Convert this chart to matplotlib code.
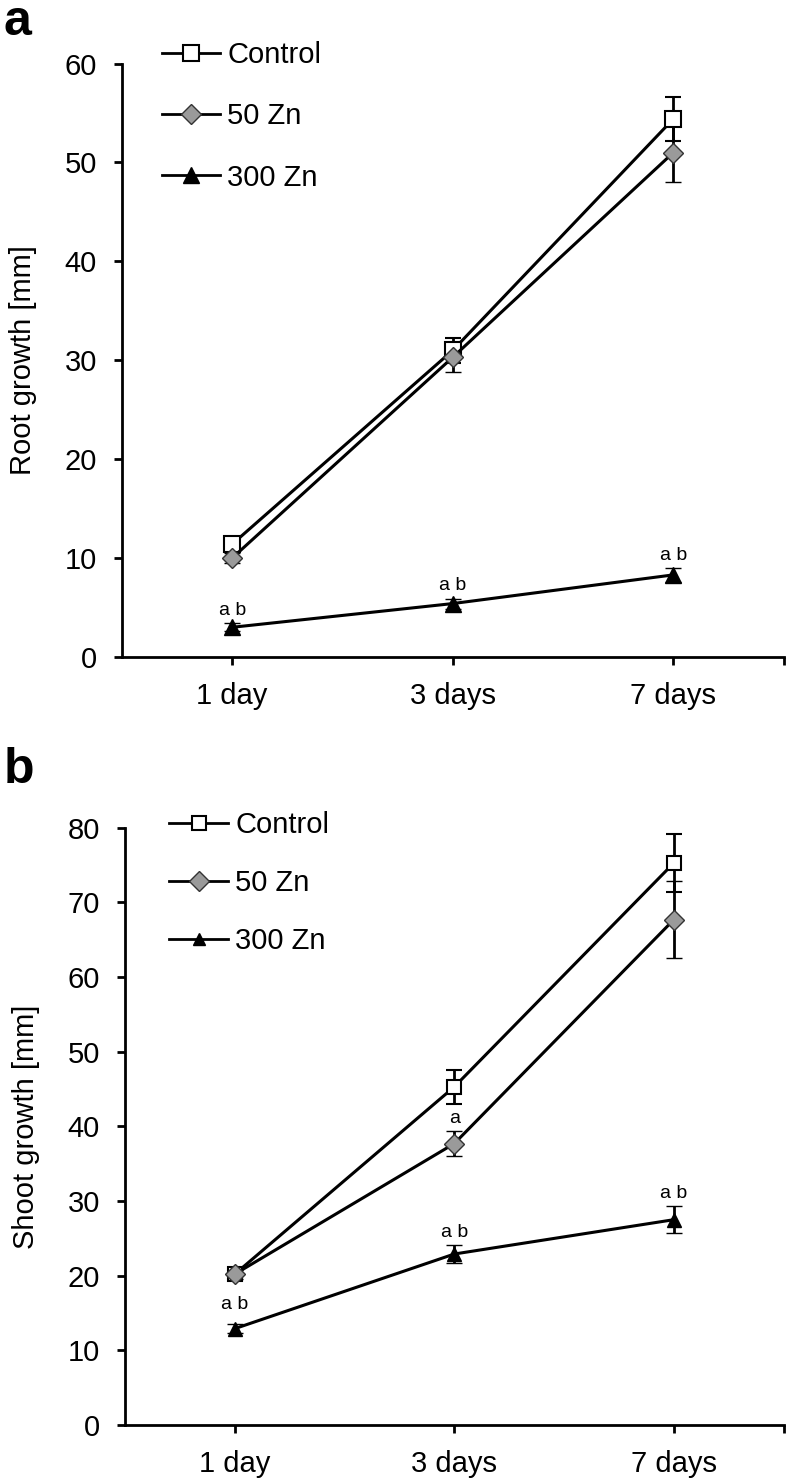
import matplotlib
matplotlib.use("Agg")
import matplotlib.pyplot as plt
from matplotlib.lines import Line2D

plt.rcParams["font.family"] = ["Liberation Sans", "DejaVu Sans"]

days = ["1 day", "3 days", "7 days"]
series = ["Control", "50 Zn", "300 Zn"]

# panel a: root growth [mm]
root_mean = {"Control": [11.4, 31.0, 54.4],
             "50 Zn": [10.0, 30.3, 51.0],
             "300 Zn": [3.0, 5.4, 8.3]}
root_err = {"Control": [0.5, 1.3, 2.2],
            "50 Zn": [0.5, 1.5, 3.0],
            "300 Zn": [0.4, 0.5, 0.7]}
root_sig = {"300 Zn": ["a b", "a b", "a b"]}

# panel b: shoot growth [mm]
shoot_mean = {"Control": [20.2, 45.3, 75.3],
              "50 Zn": [20.2, 37.7, 67.7],
              "300 Zn": [12.9, 22.9, 27.5]}
shoot_err = {"Control": [0.6, 2.3, 3.9],
             "50 Zn": [0.6, 1.7, 5.2],
             "300 Zn": [0.6, 1.2, 1.8]}
shoot_sig = {"50 Zn": ["", "a", ""],
             "300 Zn": ["a b", "a b", "a b"]}

STYLE = {
    "Control": dict(marker="s", mfc="white", mec="black", mew=1.5),
    "50 Zn": dict(marker="D", mfc="#9a9a9a", mec="#333333", mew=1.0),
    "300 Zn": dict(marker="^", mfc="black", mec="black", mew=1.0),
}


def panel(ax, means, errs, sig, ylim, ystep, ylabel, msizes, leg_ms, leg_anchor, leg_space, sig_off):
    x = list(range(len(days)))
    for name in series:
        st = STYLE[name]
        ax.errorbar(x, means[name], yerr=errs[name], color="black", lw=2.2,
                    ecolor="black", elinewidth=2.0, capsize=6, capthick=2.0,
                    ms=msizes[name], zorder=3, **st)
        for i, s in enumerate(sig.get(name, [])):
            if s:
                ax.annotate(s, (x[i], means[name][i] + errs[name][i]),
                            xytext=(0, sig_off[name][i]), textcoords="offset points",
                            ha="center", va="bottom", fontsize=14)
    ax.set_xlim(-0.5, 2.5)
    ax.set_ylim(*ylim)
    ax.set_yticks(range(ylim[0], ylim[1] + 1, ystep))
    ax.set_xticks(x)
    ax.set_xticklabels(days)
    ax.set_xticks([2.5], minor=True)
    for sp in ("top", "right"):
        ax.spines[sp].set_visible(False)
    for sp in ("left", "bottom"):
        ax.spines[sp].set_linewidth(2.0)
    ax.tick_params(axis="both", which="both", direction="out", length=6, width=2.0,
                   labelsize=21, pad=12)
    ax.set_ylabel(ylabel, fontsize=21, labelpad=20)

    handles = [Line2D([], [], color="black", lw=2.0, ms=leg_ms[n], **STYLE[n])
               for n in series]
    ax.legend(handles, series, loc="upper left", bbox_to_anchor=leg_anchor,
              bbox_transform=ax.figure.transFigure, frameon=False, fontsize=21,
              handlelength=2.0, handletextpad=0.25, labelspacing=leg_space, borderpad=0)


fig = plt.figure(figsize=(7.86, 14.78), dpi=100)
ax1 = fig.add_axes([0.155, 0.5555, 0.842, 0.4015])
ax2 = fig.add_axes([0.159, 0.0359, 0.838, 0.404])

panel(ax1, root_mean, root_err, root_sig, (0, 60), 10, "Root growth [mm]",
      {"Control": 11.5, "50 Zn": 10, "300 Zn": 11},
      {"Control": 11.5, "50 Zn": 10, "300 Zn": 11},
      (0.187, 0.982), 1.14, {"300 Zn": [3, 3, 3]})
panel(ax2, shoot_mean, shoot_err, shoot_sig, (0, 80), 10, "Shoot growth [mm]",
      {"Control": 10.5, "50 Zn": 10, "300 Zn": 10},
      {"Control": 10.5, "50 Zn": 10, "300 Zn": 8.5},
      (0.197, 0.461), 1.02, {"50 Zn": [0, 3, 0], "300 Zn": [8, 3, 3]})

fig.text(0.005, 0.985, "a", fontsize=36, fontweight="bold", va="center", ha="left")
fig.text(0.005, 0.479, "b", fontsize=36, fontweight="bold", va="center", ha="left")

fig.savefig("out.png", dpi=100)
